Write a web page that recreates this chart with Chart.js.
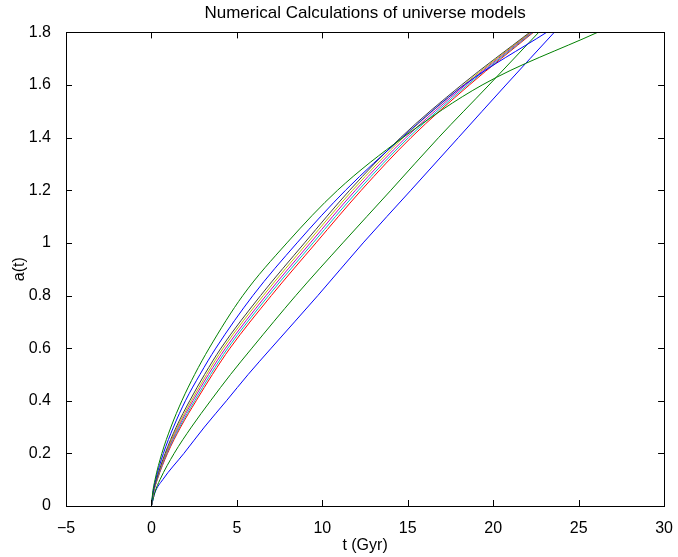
<!DOCTYPE html>
<html lang="en">
<head>
<meta charset="UTF-8">
<title>Numerical Calculations of universe models</title>
<script src="https://cdn.jsdelivr.net/npm/chart.js"></script>
<style>
  html, body { margin: 0; padding: 0; background: #fff; }
  .chart-container { position: relative; width: 678px; height: 557px; }
</style>
</head>
<body>
<div class="chart-container"><canvas id="universeChart" width="678" height="557"></canvas></div>
<script>
// scale factor levels a(t) shared by every model
const aLevels = [0, 0.05, 0.1, 0.2, 0.3, 0.4, 0.5, 0.6, 0.8, 1.0, 1.2, 1.4, 1.6, 1.8];

// time t (Gyr) at which each model reaches the levels above
const tModel1 = [0, 0.20, 0.66, 1.90, 3.10, 4.39, 5.66, 7.01, 9.74, 12.39, 15.18, 17.96, 20.74, 23.57];
const tModel2 = [0, 0.19, 0.50, 1.33, 2.34, 3.46, 4.63, 5.88, 8.45, 11.20, 14.01, 16.80, 19.75, 22.66];
const tModel3 = [0, 0.12, 0.34, 0.94, 1.71, 2.62, 3.57, 4.60, 7.02, 9.63, 12.28, 15.19, 18.60, 22.35];
const tModel4 = [0, 0.115, 0.33, 0.90, 1.65, 2.53, 3.46, 4.47, 6.86, 9.46, 12.11, 15.04, 18.49, 22.30];
const tModel5 = [0, 0.11, 0.315, 0.87, 1.58, 2.43, 3.34, 4.34, 6.71, 9.30, 11.94, 14.89, 18.37, 22.24];
const tModel6 = [0, 0.105, 0.30, 0.84, 1.52, 2.34, 3.23, 4.20, 6.55, 9.13, 11.77, 14.73, 18.26, 22.19];
const tModel7 = [0, 0.10, 0.29, 0.80, 1.45, 2.24, 3.11, 4.07, 6.39, 8.96, 11.60, 14.58, 18.14, 22.13];
const tModel8 = [0, 0.086, 0.245, 0.70, 1.29, 1.99, 2.84, 3.77, 5.94, 8.52, 11.36, 14.66, 18.30, 23.12];
const tModel9 = [0, 0.072, 0.21, 0.61, 1.14, 1.78, 2.53, 3.38, 5.35, 7.93, 10.89, 14.71, 19.35, 26.10];

const allModels = [tModel1, tModel2, tModel3, tModel4, tModel5, tModel6, tModel7, tModel8, tModel9];

// old matlab color order, cycling
const lineColors = ['#0000ff', '#008000', '#ff0000', '#00bfbf', '#bf00bf', '#bfbf00', '#404040', '#0000ff', '#008000'];

const xTicks = [-5, 0, 5, 10, 15, 20, 25, 30];
const yTicks = [0, 0.2, 0.4, 0.6, 0.8, 1, 1.2, 1.4, 1.6, 1.8];

const fontFamily = '"Liberation Sans", Arial, Helvetica, sans-serif';
const TICK_LEN = 6;

// frame + inward ticks on all four sides, like matlab axes
const matlabFrame = {
    id: 'matlabFrame',
    afterDatasetsDraw(chart) {
        const { ctx, chartArea: a, scales: { x, y } } = chart;
        ctx.save();
        ctx.strokeStyle = '#000';
        ctx.lineWidth = 1;
        ctx.beginPath();
        xTicks.forEach(v => {
            const px = Math.round(x.getPixelForValue(v)) + 0.5;
            ctx.moveTo(px, a.bottom); ctx.lineTo(px, a.bottom - TICK_LEN);
            ctx.moveTo(px, a.top); ctx.lineTo(px, a.top + TICK_LEN);
        });
        yTicks.forEach(v => {
            const py = Math.round(y.getPixelForValue(v)) + 0.5;
            ctx.moveTo(a.left, py); ctx.lineTo(a.left + TICK_LEN, py);
            ctx.moveTo(a.right, py); ctx.lineTo(a.right - TICK_LEN, py);
        });
        ctx.stroke();
        ctx.strokeRect(Math.round(a.left) + 0.5, Math.round(a.top) + 0.5,
                       Math.round(a.right - a.left), Math.round(a.bottom - a.top));
        ctx.restore();
    }
};

const datasets = allModels.map((tVals, i) => ({
    label: 'model ' + (i + 1),
    data: tVals.map((t, k) => ({ x: t, y: aLevels[k] })),
    borderColor: lineColors[i],
    borderWidth: 1,
    pointRadius: 0,
    showLine: true,
    fill: false,
    cubicInterpolationMode: 'monotone',
    order: allModels.length - i
}));

new Chart(document.getElementById('universeChart'), {
    type: 'scatter',
    data: { datasets: datasets },
    plugins: [matlabFrame],
    options: {
        responsive: false,
        animation: false,
        layout: { padding: { left: 0, right: 11, top: 0, bottom: 0 } },
        plugins: {
            legend: { display: false },
            tooltip: { enabled: false },
            title: {
                display: true,
                fullSize: false,
                text: 'Numerical Calculations of universe models',
                color: '#000',
                font: { family: fontFamily, size: 17, weight: 'normal' },
                padding: { top: 3, bottom: 9 }
            }
        },
        scales: {
            x: {
                type: 'linear',
                min: -5, max: 30,
                afterFit: s => { s.height = 51; },
                afterBuildTicks: s => { s.ticks = xTicks.map(v => ({ value: v })); },
                grid: { display: false },
                border: { display: false },
                ticks: { color: '#000', padding: 5, font: { family: fontFamily, size: 16 }, maxRotation: 0,
                         callback: v => (v < 0 ? '\u2212' + Math.abs(v) : String(v)) },
                title: { display: true, text: 't (Gyr)', color: '#000', padding: { top: 0, bottom: 2 },
                         font: { family: fontFamily, size: 16 } }
            },
            y: {
                type: 'linear',
                min: 0, max: 1.8,
                afterFit: s => { s.width = 66; },
                afterBuildTicks: s => { s.ticks = yTicks.map(v => ({ value: v })); },
                grid: { display: false },
                border: { display: false },
                ticks: { color: '#000', padding: 7, font: { family: fontFamily, size: 16 },
                         callback: v => String(Math.round(v * 10) / 10) },
                title: { display: true, text: 'a(t)', color: '#000', padding: { top: 10, bottom: 0 },
                         font: { family: fontFamily, size: 16 } }
            }
        }
    }
});
</script>
</body>
</html>
